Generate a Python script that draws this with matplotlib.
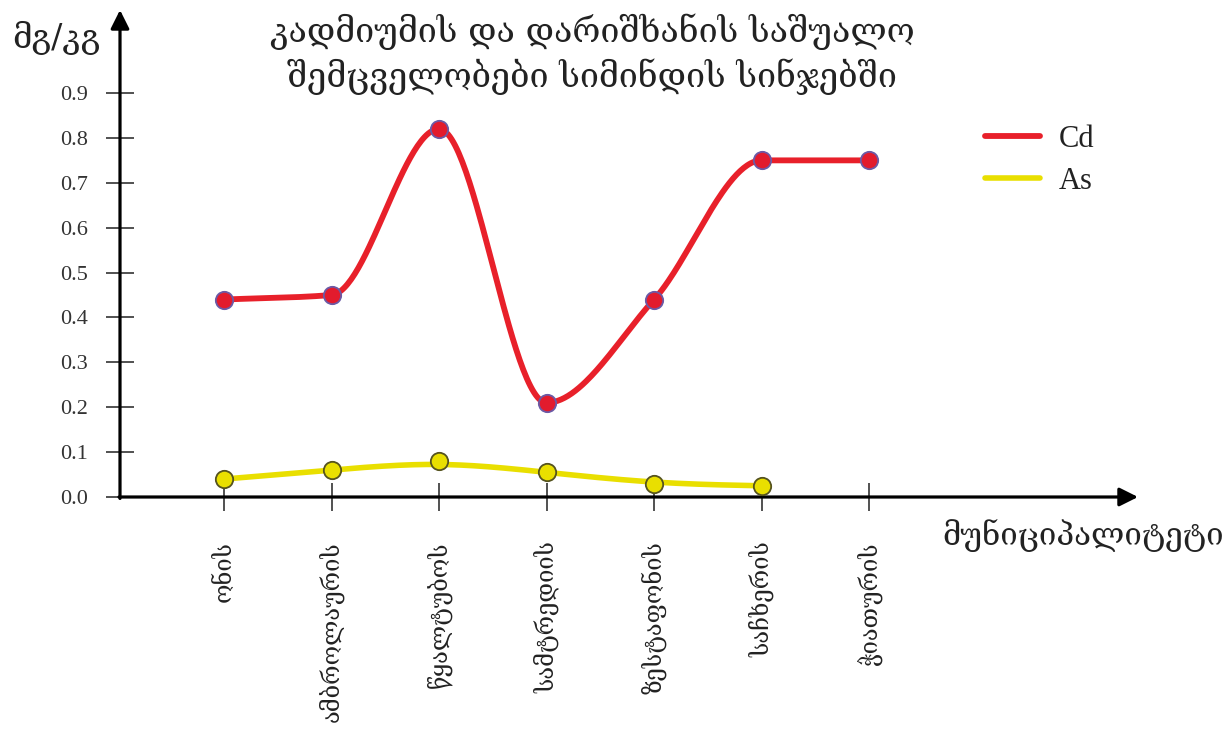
import numpy as np
import matplotlib
matplotlib.use("Agg")
import matplotlib.pyplot as plt

# Municipalities and mean concentrations (mg/kg) in maize samples
municipalities = ["ონის", "ამბროლაურის", "წყალტუბოს", "სამტრედიის",
                  "ზესტაფონის", "საჩხერის", "ჭიათურის"]
cd_values = [0.44, 0.45, 0.82, 0.21, 0.44, 0.75, 0.75]
as_values = [0.04, 0.06, 0.08, 0.055, 0.03, 0.025]
y_ticks = [0.0, 0.1, 0.2, 0.3, 0.4, 0.5, 0.6, 0.7, 0.8, 0.9]

title_text = "კადმიუმის და დარიშხანის საშუალო\nშემცველობები სიმინდის სინჯებში"
y_label = "მგ/კგ"
x_label = "მუნიციპალიტეტი"

GEO = ["DejaVu Serif", "DejaVu Sans"]
NUM = ["Liberation Serif", "DejaVu Serif"]

RED = "#e8202a"
RED_FILL = "#e21b2d"
RED_EDGE = "#6b5aa6"
YEL = "#e9df00"
YEL_EDGE = "#55531f"


def smooth_interp(x, y, n=60):
    """Monotone cubic (Fritsch-Carlson) curve through every point."""
    x = np.asarray(x, float)
    y = np.asarray(y, float)
    h = np.diff(x)
    d = np.diff(y) / h
    m = np.zeros_like(y)
    for k in range(1, len(y) - 1):
        if d[k - 1] * d[k] > 0:
            w1 = 2 * h[k] + h[k - 1]
            w2 = h[k] + 2 * h[k - 1]
            m[k] = (w1 + w2) / (w1 / d[k - 1] + w2 / d[k])
    m[0] = d[0]
    m[-1] = d[-1]
    xs, ys = [], []
    for i in range(len(x) - 1):
        t = np.linspace(0, 1, n, endpoint=(i == len(x) - 2))
        h00 = 2 * t**3 - 3 * t**2 + 1
        h10 = t**3 - 2 * t**2 + t
        h01 = -2 * t**3 + 3 * t**2
        h11 = t**3 - t**2
        xs.append(x[i] + t * h[i])
        ys.append(h00 * y[i] + h10 * h[i] * m[i] + h01 * y[i + 1] + h11 * h[i] * m[i + 1])
    return np.concatenate(xs), np.concatenate(ys)


def bspline(x, y, n=60):
    """Clamped uniform cubic B-spline using the points as control points."""
    P = np.column_stack([x, y]).astype(float)
    P = np.vstack([P[0], P[0], P, P[-1], P[-1]])
    out = []
    for i in range(len(P) - 3):
        t = np.linspace(0, 1, n)[:, None]
        b0 = (1 - t) ** 3 / 6
        b1 = (3 * t**3 - 6 * t**2 + 4) / 6
        b2 = (-3 * t**3 + 3 * t**2 + 3 * t + 1) / 6
        b3 = t**3 / 6
        out.append(b0 * P[i] + b1 * P[i + 1] + b2 * P[i + 2] + b3 * P[i + 3])
    out = np.vstack(out)
    return out[:, 0], out[:, 1]


fig = plt.figure(figsize=(12.32, 7.36), dpi=100)
W, H = 1232, 736
ax = fig.add_axes([120 / W, 1 - 497 / H, (1138 - 120) / W, (497 - 10) / H])

x_cd = np.arange(len(cd_values))
x_as = np.arange(len(as_values))

cx, cy = smooth_interp(x_cd, cd_values)
ax.plot(cx, cy, color=RED, lw=4.2, solid_capstyle="round", label="Cd", zorder=3)
ax_, ay_ = bspline(x_as, as_values)
ax.plot(ax_, ay_, color=YEL, lw=4.0, solid_capstyle="round", label="As", zorder=3)

ax.plot(x_cd, cd_values, "o", ms=12.5, mfc=RED_FILL, mec=RED_EDGE, mew=1.3, zorder=4)
ax.plot(x_as, as_values, "o", ms=12.5, mfc=YEL, mec=YEL_EDGE, mew=1.3, zorder=4)

ax.set_xlim(-0.967, 8.50)
ax.set_ylim(0, 1.085)

for s in ax.spines.values():
    s.set_visible(False)

# axes drawn as arrows
arrow = dict(arrowstyle="-|>", lw=2.3, color="black", mutation_scale=28, shrinkA=0, shrinkB=0)
ax.annotate("", xy=(0, 1.0), xytext=(0, -0.003), xycoords="axes fraction", arrowprops=arrow,
            annotation_clip=False)
ax.annotate("", xy=(1.0, 0), xytext=(-0.001, 0), xycoords="axes fraction", arrowprops=arrow,
            annotation_clip=False)

ax.set_yticks(y_ticks)
ax.set_yticklabels([f"{v:.1f}" for v in y_ticks], family=NUM, fontsize=16, color="#333333")
ax.set_xticks(x_cd)
ax.set_xticklabels(municipalities, rotation=90, family=GEO, fontsize=17, color="#222222")
ax.tick_params(axis="y", direction="inout", length=20, width=1.1, color="#222222", pad=13)
ax.tick_params(axis="x", direction="inout", length=20, width=1.1, color="#222222", pad=22)

fig.text(592 / W, 1 - 54 / H, title_text, ha="center", va="center", family=GEO,
         fontsize=24.5, color="#222222", linespacing=1.3)
fig.text(12 / W, 1 - 38 / H, y_label, ha="left", va="center", family=GEO,
         fontsize=24, color="#222222")
fig.text(942 / W, 1 - 535 / H, x_label, ha="left", va="center", family=GEO,
         fontsize=22.5, color="#222222")

leg = ax.legend(loc="upper left", bbox_to_anchor=(985 / W, 1 - 125 / H),
                bbox_transform=fig.transFigure, frameon=False,
                prop={"family": NUM, "size": 22}, handlelength=1.8,
                handletextpad=0.6, labelspacing=0.42, borderpad=0, borderaxespad=0)
for t in leg.get_texts():
    t.set_color("#222222")

fig.savefig("out.png", dpi=100)
